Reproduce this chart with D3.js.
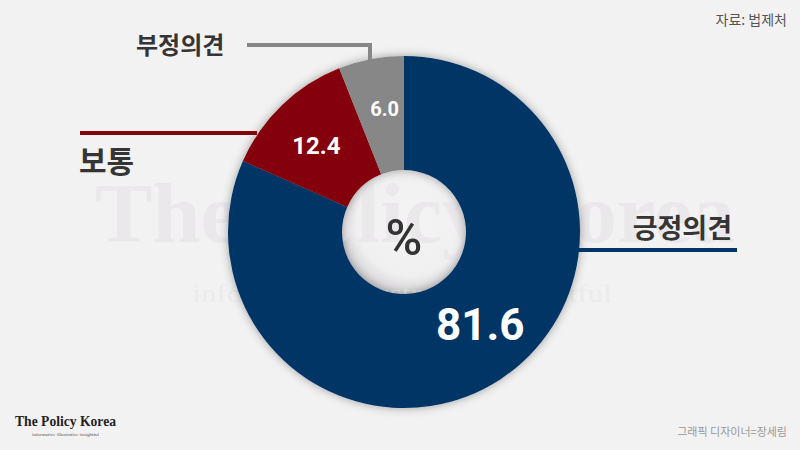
<!DOCTYPE html>
<html><head><meta charset="utf-8">
<script src="https://cdn.jsdelivr.net/npm/d3@7/dist/d3.min.js"></script>
<style>body{margin:0;background:#f3f2f3}svg{display:block}</style>
</head><body>
<svg id="c" width="800" height="450"></svg>
<script>
const categories = ["긍정의견", "보통", "부정의견"];
const values = [81.6, 12.4, 6.0];
const valueLabels = ["81.6", "12.4", "6.0"];
const colors = ["#023466", "#850607", "#878787"];
const sourceText = "자료: 법제처";
const creditText = "그래픽 디자이너=장세림";

const svg = d3.select("#c");
const W = 800, H = 450, cx = 404, cy = 232, R = 176, r = 62;
const defs = svg.append("defs");
svg.append("rect").attr("width", W).attr("height", H).attr("fill", "#f3f2f3");

const f = defs.append("filter").attr("id", "sh").attr("x", "-20%").attr("y", "-20%").attr("width", "140%").attr("height", "140%");
f.append("feDropShadow").attr("dx", 0).attr("dy", 0).attr("stdDeviation", 5).attr("flood-color", "#000").attr("flood-opacity", 0.35);

const hg = defs.append("radialGradient").attr("id", "hole").attr("cx", "55%").attr("cy", "42%").attr("r", "60%");
hg.append("stop").attr("offset", "0%").attr("stop-color", "#f5f4f5");
hg.append("stop").attr("offset", "70%").attr("stop-color", "#f1f0f1");
hg.append("stop").attr("offset", "100%").attr("stop-color", "#cfcdcf");

const holeLayer = svg.append("g").attr("transform", `translate(${cx},${cy})`);
const wmLayer = svg.append("g");
const g = svg.append("g").attr("transform", `translate(${cx},${cy})`);

// hole
holeLayer.append("circle").attr("r", r + 2).attr("fill", "url(#hole)");

// watermark
wmLayer.append("text").attr("x", 95).attr("y", 242).attr("textLength", 640).attr("lengthAdjust", "spacingAndGlyphs")
  .attr("font-family", "Liberation Serif, serif").attr("font-weight", "bold").attr("font-size", 84)
  .attr("fill", "#eae8ea").text("The Policy Korea");
wmLayer.append("text").attr("x", 192).attr("y", 302).attr("textLength", 420).attr("lengthAdjust", "spacingAndGlyphs")
  .attr("font-family", "Liberation Serif, serif").attr("font-size", 26)
  .attr("fill", "#ecebec").text("informative·illustrative·insightful");

const pie = d3.pie().sort(null).value(d => d)(values);
const arc = d3.arc().innerRadius(r).outerRadius(R);
g.append("g").attr("filter", "url(#sh)").selectAll("path").data(pie).join("path")
  .attr("d", arc).attr("fill", (d, i) => colors[i]);

// value labels
const labelArc = d3.arc().innerRadius(125).outerRadius(125);
const sizes = [44, 24, 20];
const offs = [[8, -12], [-1, 4], [4, 0]];
g.selectAll("text.v").data(pie).join("text").attr("class", "v")
  .attr("x", (d, i) => labelArc.centroid(d)[0] + offs[i][0])
  .attr("y", (d, i) => labelArc.centroid(d)[1] + offs[i][1])
  .attr("text-anchor", "middle").attr("dominant-baseline", "central")
  .attr("font-family", "Roboto, 'Noto Sans', sans-serif").attr("font-weight", "bold")
  .attr("font-size", (d, i) => sizes[i]).attr("fill", "#fff").text((d, i) => valueLabels[i]);

g.append("text").attr("x", 0).attr("y", 6).attr("text-anchor", "middle").attr("dominant-baseline", "central")
  .attr("font-family", "Roboto, 'Noto Sans', sans-serif").attr("font-weight", 500).attr("font-size", 50)
  .attr("fill", "#333").text("%");

// leader lines and category labels
const lab = svg.append("g").attr("font-family", "'Noto Sans CJK KR', sans-serif").attr("font-weight", "bold").attr("fill", "#353535");
svg.append("line").attr("x1", 578).attr("x2", 737).attr("y1", 250).attr("y2", 250).attr("stroke", colors[0]).attr("stroke-width", 4);
lab.append("text").attr("x", 732).attr("y", 238).attr("text-anchor", "end").attr("font-size", 27).text(categories[0]);
svg.append("line").attr("x1", 80).attr("x2", 257).attr("y1", 133).attr("y2", 133).attr("stroke", colors[1]).attr("stroke-width", 4);
lab.append("text").attr("x", 79).attr("y", 172).attr("font-size", 30).text(categories[1]);
svg.append("path").attr("d", "M247,45H370V60").attr("fill", "none").attr("stroke", colors[2]).attr("stroke-width", 4);
lab.append("text").attr("x", 136).attr("y", 54).attr("font-size", 24).text(categories[2]);

// source & credit
svg.append("text").attr("x", 787).attr("y", 25).attr("text-anchor", "end").attr("font-family", "'Noto Sans CJK KR', sans-serif")
  .attr("font-size", 14).attr("fill", "#555").text(sourceText);
svg.append("text").attr("x", 787).attr("y", 436).attr("text-anchor", "end").attr("font-family", "'Noto Sans CJK KR', sans-serif")
  .attr("font-size", 11).attr("fill", "#999").text(creditText);

// logo
svg.append("text").attr("x", 15).attr("y", 426).attr("textLength", 101).attr("lengthAdjust", "spacingAndGlyphs")
  .attr("font-family", "Liberation Serif, serif").attr("font-weight", "bold").attr("font-size", 15)
  .attr("fill", "#222").text("The Policy Korea");
svg.append("text").attr("x", 32).attr("y", 436).attr("textLength", 67).attr("lengthAdjust", "spacingAndGlyphs")
  .attr("font-family", "Liberation Serif, serif").attr("font-size", 5)
  .attr("fill", "#555").text("informative·illustrative·insightful");
</script>
</body></html>
